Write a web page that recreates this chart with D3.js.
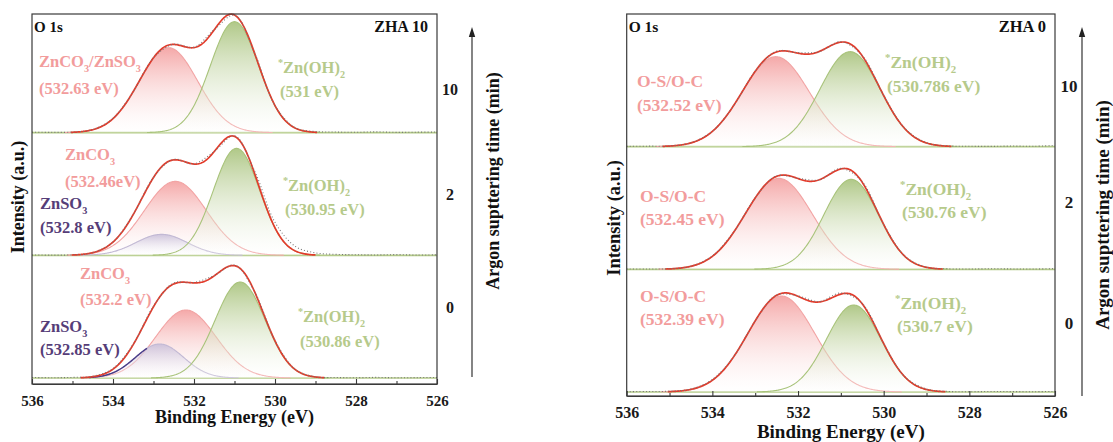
<!DOCTYPE html>
<html>
<head>
<meta charset="utf-8">
<script src="https://cdn.jsdelivr.net/npm/d3@7"></script>
<style>
  html, body { margin: 0; padding: 0; background: #fff; }
  svg { display: block; }
  text { font-family: "Liberation Serif", "Times New Roman", serif; font-weight: bold; }
</style>
</head>
<body>
<svg id="chart" width="1113" height="442"></svg>
<script>
// ---- data -------------------------------------------------------------
const energyGrid = [536, 535.5, 535, 534.5, 534, 533.5, 533, 532.5, 532, 531.5, 531,
                    530.5, 530, 529.5, 529, 528.5, 528, 527.5, 527, 526.5, 526];
const majorTicks = [536, 534, 532, 530, 528, 526];
const minorTicks = [535, 533, 531, 529, 527];
const sputterTimes = ["10", "2", "0"];

// measured O 1s intensity (a.u.), sample ZHA 10
const zha10Counts10 = [0.5, 0.3, 0.6, 3.2, 14.5, 41, 75, 88.5, 85.5, 103, 117.5, 79.5, 27, 5, 1.2, 0.6, 0.4, 0.8, 0.3, 0.5, 0.6];
const zha10Counts2  = [0.4, 0.2, 0.5, 2.6, 13.5, 41, 78, 96, 91.5, 104, 119.5, 84, 33, 9, 2.5, 1, 0.6, 0.4, 0.7, 0.3, 0.5];
const zha10Counts0  = [0.5, 0.3, 0.6, 1.8, 9.5, 34, 72, 95, 95.5, 102.5, 113, 86, 37.5, 8.8, 1.2, 0.5, 0.3, 0.6, 0.2, 0.4, 0.5];
// measured O 1s intensity (a.u.), sample ZHA 0
const zha0Counts10  = [0.3, 0.5, 0.8, 4, 15.5, 41, 75.5, 95.5, 94, 95, 105, 91, 51.5, 18, 4, 0.8, 0.4, 0.3, 0.6, 0.4, 1.2];
const zha0Counts2   = [0.4, 0.3, 0.6, 3.2, 13.5, 37.5, 71.5, 93.5, 91, 89.5, 101, 87.5, 45, 13, 2.2, 0.5, 0.3, 0.6, 0.4, 0.3, 0.8];
const zha0Counts0   = [0.4, 0.5, 0.8, 3, 12.5, 35.5, 71, 97, 96, 90.5, 99, 88.5, 48.5, 15, 3, 0.6, 0.3, 0.5, 0.4, 0.3, 0.6];

// fitted Gaussian components: [time (min), species, centre (eV), height (a.u.), FWHM (eV), colour family, gap before "eV"]
const zha10Components = [
  ["10", "ZnCO3/ZnSO3", 532.63, 85, 1.7, "red", " "],
  ["10", "*Zn(OH)2", 531, 111, 1.4, "green", " "],
  ["2", "ZnCO3", 532.46, 74, 1.8, "red", ""],
  ["2", "ZnSO3", 532.8, 21, 1.5, "purple", " "],
  ["2", "*Zn(OH)2", 530.95, 107, 1.35, "green", " "],
  ["0", "ZnCO3", 532.2, 68, 1.75, "red", " "],
  ["0", "ZnSO3", 532.85, 34, 1.4, "purple", " "],
  ["0", "*Zn(OH)2", 530.86, 96, 1.45, "green", " "]
];
const zha0Components = [
  ["10", "O-S/O-C", 532.52, 90, 1.85, "red", " "],
  ["10", "*Zn(OH)2", 530.786, 95, 1.65, "green", " "],
  ["2", "O-S/O-C", 532.45, 91, 1.85, "red", " "],
  ["2", "*Zn(OH)2", 530.76, 90, 1.5, "green", " "],
  ["0", "O-S/O-C", 532.39, 96, 1.85, "red", " "],
  ["0", "*Zn(OH)2", 530.7, 87, 1.5, "green", " "]
];

// ---- styling ----------------------------------------------------------
const palette = {
  red:    { top: "#f39a9a", line: "#f2a4a4", text: "#f29c9c" },
  green:  { top: "#a3bf74", line: "#a8c37a", text: "#b6ca8b" },
  purple: { top: "#c6bcd8", line: "#c2b9d4", text: "#563d78" }
};
const envelopeColor = "#e23b2b";
const baselineColor = "#b4cb88";
const frameColor = "#3a3a3a";

const svg = d3.select("#chart");
const defs = svg.append("defs");
Object.keys(palette).forEach(k => {
  const g = defs.append("linearGradient").attr("id", "fade-" + k)
    .attr("x1", 0).attr("y1", 0).attr("x2", 0).attr("y2", 1);
  g.append("stop").attr("offset", "0%").attr("stop-color", palette[k].top).attr("stop-opacity", 0.95);
  g.append("stop").attr("offset", "100%").attr("stop-color", "#ffffff").attr("stop-opacity", 0.25);
});

// Rich text: "*" becomes a superscript, digits after a letter or ")" become subscripts
function appendRich(textSel, str, fs) {
  const parts = [];
  for (let i = 0; i < str.length; i++) {
    const c = str[i];
    let type = "n";
    if (c === "*") type = "sup";
    else if (/\d/.test(c) && i > 0 && /[A-Za-z)]/.test(str[i - 1])) type = "sub";
    const last = parts[parts.length - 1];
    if (last && last.type === type) last.s += c; else parts.push({ type, s: c });
  }
  let shift = 0;
  parts.forEach(p => {
    const target = p.type === "sup" ? -0.4 * fs : p.type === "sub" ? 0.28 * fs : 0;
    textSel.append("tspan")
      .attr("dy", target - shift)
      .attr("font-size", p.type === "n" ? fs : fs * 0.62)
      .text(p.s);
    shift = target;
  });
}

const gauss = (e, c, h, w) => h * Math.exp(-4 * Math.LN2 * (e - c) * (e - c) / (w * w));
const drawGrid = d3.range(536, 525.99, -0.02);

function drawPanel(cfg) {
  const g = svg.append("g");
  const x = d3.scaleLinear().domain([536, 526]).range([cfg.left, cfg.right]);
  const band = d3.scaleBand().domain(sputterTimes).range([cfg.bandTop, cfg.bandBottom]);
  const yFor = t => {
    const base = band(t) + band.bandwidth() - 1;
    return d3.scaleLinear().domain([0, 100]).range([base, base - 100]);
  };

  sputterTimes.forEach((t, ti) => {
    const y = yFor(t);
    const comps = cfg.components.filter(c => c[0] === t);
    const order = { red: 0, purple: 1, green: 2 };
    comps.sort((a, b) => order[a[5]] - order[b[5]]);

    // baseline
    g.append("line").attr("x1", cfg.left).attr("x2", cfg.right)
      .attr("y1", y(0)).attr("y2", y(0))
      .attr("stroke", baselineColor).attr("stroke-width", 1.6);

    // fitted components
    comps.forEach(c => {
      const pts = drawGrid.map(e => ({ e, v: gauss(e, c[2], c[3], c[4]) }))
        .filter(p => p.v > 0.15);
      g.append("path").datum(pts)
        .attr("d", d3.area().x(p => x(p.e)).y0(y(0)).y1(p => y(p.v)))
        .attr("fill", "url(#fade-" + c[5] + ")").attr("fill-opacity", 0.9);
      g.append("path").datum(pts)
        .attr("d", d3.line().x(p => x(p.e)).y(p => y(p.v)))
        .attr("fill", "none").attr("stroke", palette[c[5]].line).attr("stroke-width", 1.1);
      if (cfg.emphasis && cfg.emphasis.time === t && cfg.emphasis.kind === c[5]) {
        const seg = pts.filter(p => p.e <= cfg.emphasis.from && p.e >= cfg.emphasis.to);
        g.append("path").datum(seg)
          .attr("d", d3.line().x(p => x(p.e)).y(p => y(p.v)))
          .attr("fill", "none").attr("stroke", "#4a3c88").attr("stroke-width", 1.4);
      }
    });

    // envelope (sum of components)
    const env = drawGrid.map(e => ({ e, v: d3.sum(comps, c => gauss(e, c[2], c[3], c[4])) }));
    g.append("path").datum(env)
      .attr("d", d3.line().defined(p => p.v > 0.3).x(p => x(p.e)).y(p => y(p.v)))
      .attr("fill", "none").attr("stroke", envelopeColor).attr("stroke-width", 1.7);

    // measured points
    const counts = cfg.counts[ti];
    g.append("path").datum(energyGrid.map((e, i) => ({ e, v: counts[i] })))
      .attr("d", d3.line().curve(d3.curveCatmullRom).x(p => x(p.e)).y(p => y(p.v)))
      .attr("fill", "none").attr("stroke", "#777").attr("stroke-width", 1.1)
      .attr("stroke-dasharray", "1,2.2");

    // peak annotations
    comps.forEach(c => {
      const pos = cfg.labelPos[t + "|" + c[5]];
      const t1 = g.append("text").attr("x", pos[0]).attr("y", pos[1])
        .attr("fill", palette[c[5]].text);
      appendRich(t1, c[1], cfg.annFs);
      g.append("text").attr("x", pos[0] + (c[5] === "green" ? 2 : 0)).attr("y", pos[2])
        .attr("fill", palette[c[5]].text).attr("font-size", cfg.annFs)
        .text("(" + c[2] + c[6] + "eV)");
    });

    // sputtering time
    g.append("text").attr("x", cfg.timeX).attr("y", cfg.timeY[ti])
      .attr("text-anchor", "middle").attr("font-size", cfg.timeFs).attr("fill", "#1a1a1a")
      .text(t);
  });

  // frame
  g.append("rect").attr("x", cfg.left).attr("y", cfg.top)
    .attr("width", cfg.right - cfg.left).attr("height", cfg.axisY - cfg.top)
    .attr("fill", "none").attr("stroke", frameColor).attr("stroke-width", 1.2);

  // x axis with inward ticks
  const ax = g.append("g").attr("transform", `translate(0,${cfg.axisY})`)
    .call(d3.axisBottom(x).tickValues(majorTicks).tickSize(-5).tickSizeOuter(0)
      .tickPadding(cfg.tickPad).tickFormat(d3.format("d")));
  ax.select(".domain").attr("stroke", frameColor).attr("stroke-width", 1.2);
  ax.selectAll(".tick line").attr("stroke", frameColor).attr("stroke-width", 1.1);
  ax.selectAll(".tick text").attr("font-size", cfg.tickFs).attr("fill", "#1a1a1a");
  const mx = g.append("g").attr("transform", `translate(0,${cfg.axisY})`)
    .call(d3.axisBottom(x).tickValues(minorTicks).tickSize(-3).tickFormat(""));
  mx.select(".domain").remove();
  mx.selectAll(".tick line").attr("stroke", frameColor).attr("stroke-width", 1.1);

  // titles
  g.append("text").attr("x", (cfg.left + cfg.right) / 2).attr("y", cfg.xTitleY)
    .attr("text-anchor", "middle").attr("font-size", cfg.xTitleFs).attr("fill", "#111")
    .text("Binding Energy (eV)");
  g.append("text").attr("transform", `translate(${cfg.yTitle[0]},${cfg.yTitle[1]}) rotate(-90)`)
    .attr("text-anchor", "middle").attr("dominant-baseline", "central")
    .attr("font-size", cfg.yTitleFs).attr("fill", "#111").text("Intensity (a.u.)");
  g.append("text").attr("x", cfg.left + 2).attr("y", cfg.top + 18)
    .attr("font-size", cfg.cornerFs).attr("fill", "#111").text("O 1s");
  g.append("text").attr("x", cfg.right - 9).attr("y", cfg.top + 18).attr("text-anchor", "end")
    .attr("font-size", cfg.cornerFs + 1).attr("fill", "#111").text(cfg.sample);

  // sputtering-time arrow
  const [yEnd, yTip] = cfg.arrowY;
  g.append("line").attr("x1", cfg.arrowX).attr("x2", cfg.arrowX)
    .attr("y1", yEnd).attr("y2", yTip + 8)
    .attr("stroke", "#333").attr("stroke-width", 1.2);
  g.append("path")
    .attr("d", `M${cfg.arrowX},${yTip} L${cfg.arrowX + 3.2},${yTip + 10} L${cfg.arrowX - 3.2},${yTip + 10} Z`)
    .attr("fill", "#222");
  g.append("text").attr("transform", `translate(${cfg.timeTitle[0]},${cfg.timeTitle[1]}) rotate(-90)`)
    .attr("text-anchor", "middle").attr("dominant-baseline", "central")
    .attr("font-size", cfg.timeTitleFs).attr("fill", "#111").text("Argon supttering time (min)");
}

drawPanel({
  sample: "ZHA 10",
  components: zha10Components,
  counts: [zha10Counts10, zha10Counts2, zha10Counts0],
  left: 32, right: 437, top: 14, axisY: 384,
  bandTop: 11, bandBottom: 379,
  tickFs: 15, tickPad: 11, xTitleY: 423, xTitleFs: 18,
  yTitle: [18, 197], yTitleFs: 18,
  cornerFs: 15, annFs: 16.5,
  timeX: 450, timeY: [95, 200, 313], timeFs: 16,
  arrowX: 472, arrowY: [377, 27],
  timeTitle: [493, 181], timeTitleFs: 18,
  emphasis: { time: "0", kind: "purple", from: 534.6, to: 533.15 },
  labelPos: {
    "10|red": [39, 67, 94], "10|green": [278, 73, 97],
    "2|red": [65, 160, 187], "2|purple": [40, 209, 233], "2|green": [283, 191, 215],
    "0|red": [80, 279, 305], "0|purple": [40, 332, 355], "0|green": [298, 322, 347]
  }
});

drawPanel({
  sample: "ZHA 0",
  components: zha0Components,
  counts: [zha0Counts10, zha0Counts2, zha0Counts0],
  left: 626.7, right: 1055, top: 14, axisY: 396,
  bandTop: 25, bandBottom: 393,
  tickFs: 16, tickPad: 11, xTitleY: 438, xTitleFs: 19,
  yTitle: [614, 218], yTitleFs: 18.5,
  cornerFs: 15.5, annFs: 17.5,
  timeX: 1069, timeY: [92, 208, 329], timeFs: 17,
  arrowX: 1082, arrowY: [396, 27],
  timeTitle: [1102, 215], timeTitleFs: 19,
  emphasis: null,
  labelPos: {
    "10|red": [637, 87, 111], "10|green": [885, 68, 92],
    "2|red": [640, 202, 225], "2|green": [900, 195, 218],
    "0|red": [640, 302, 325], "0|green": [895, 309, 332]
  }
});
</script>
</body>
</html>
